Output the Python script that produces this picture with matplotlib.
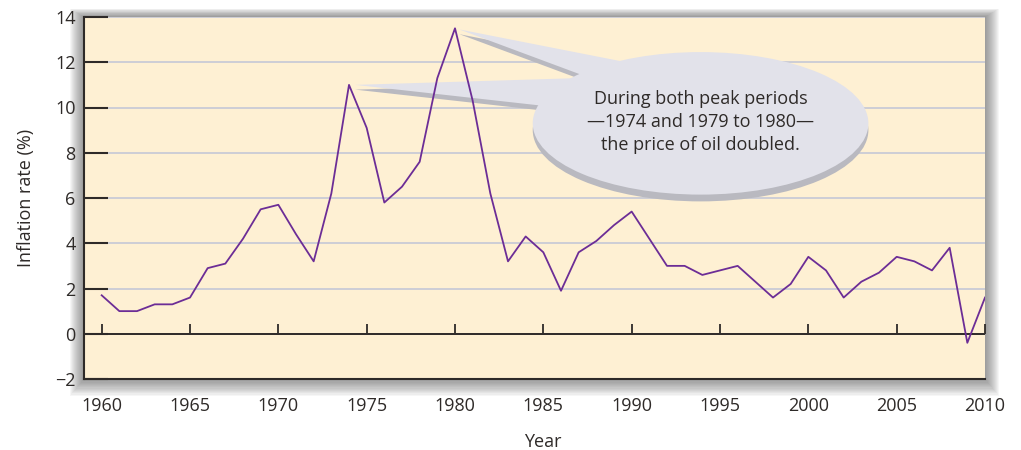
import matplotlib.pyplot as plt
from matplotlib.patches import Ellipse, Polygon, Rectangle

plt.rcParams['font.family'] = ['Open Sans', 'DejaVu Sans']

# US inflation rate, 1960-2010 (%)
years = list(range(1960, 2011))
inflation = [1.7, 1.0, 1.0, 1.3, 1.3, 1.6, 2.9, 3.1, 4.2, 5.5,
             5.7, 4.4, 3.2, 6.2, 11.0, 9.1, 5.8, 6.5, 7.6, 11.3,
             13.5, 10.3, 6.2, 3.2, 4.3, 3.6, 1.9, 3.6, 4.1, 4.8,
             5.4, 4.2, 3.0, 3.0, 2.6, 2.8, 3.0, 2.3, 1.6, 2.2,
             3.4, 2.8, 1.6, 2.3, 2.7, 3.4, 3.2, 2.8, 3.8, -0.4,
             1.6]
x_ticks = list(range(1960, 2011, 5))
y_ticks = list(range(-2, 15, 2))
note = "During both peak periods\n\u20141974 and 1979 to 1980\u2014\nthe price of oil doubled."

bg = '#FEF0D3'
dark = '#2E2A28'
purple = '#6C2D96'
bubble = '#E2E2EA'
bubble_shadow = '#B9B9C0'

fig = plt.figure(figsize=(10.21, 4.5), dpi=100)
ax = fig.add_axes([84 / 1021, 1 - 379 / 450, 901 / 1021, 362 / 450])
ax.set_facecolor(bg)

# soft drop shadow round the plot frame
x0, y0, w, h = ax.get_position().bounds
for i in range(1, 15):
    px, py = i / 1021, i / 450
    fig.patches.append(Rectangle((x0 - px, y0 - py * 1.2), w + 2 * px, h + py * 1.8,
                                 transform=fig.transFigure, color='#505050',
                                 alpha=0.05, lw=0, zorder=-5))

ax.plot(years, inflation, color=purple, lw=1.3, zorder=4)
ax.axhline(0, color=dark, lw=1.4, zorder=3.5)

ax.set_xlim(1959, 2010)
ax.set_ylim(-2, 14)
ax.set_yticks(y_ticks)
ax.set_xticks(x_ticks)
ax.set_axisbelow(True)
ax.grid(axis='y', color='#C9CBD6', lw=1.3)
ax.grid(axis='x', visible=False)

for s in ['top', 'right']:
    ax.spines[s].set_visible(False)
for s in ['left', 'bottom']:
    ax.spines[s].set_color(dark)
    ax.spines[s].set_linewidth(1.5)

ax.tick_params(axis='y', direction='in', length=17, width=1.5, color=dark,
               labelsize=13, labelcolor=dark, pad=6)
ax.tick_params(axis='x', length=0, labelsize=13, labelcolor=dark, pad=13)

# zero line carrying the year ticks
zero = ax.secondary_xaxis(2 / 16)
zero.set_xticks(x_ticks)
zero.tick_params(direction='in', length=7, width=1.3, color=dark, labelbottom=False)
zero.spines['bottom'].set_visible(False)

ax.set_ylabel('Inflation rate (%)', fontsize=13, color=dark)
ax.yaxis.set_label_coords(-0.054, 0.5)
ax.set_xlabel('Year', fontsize=13, color=dark)
ax.xaxis.set_label_coords(0.509, -0.148)

# speech bubble callout
cx, cy, ew, eh = 1993.9, 9.3, 19.0, 6.3
tip74 = (1974.35, inflation[14])
tip80 = (1980.25, inflation[20] - 0.05)
wedge74 = [tip74, (1987.0, 11.3), (1987.0, 9.9)]
wedge80 = [tip80, (1991.0, 11.8), (1988.0, 11.2)]
sh = 0.3
for pts in (wedge74, wedge80):
    ax.add_patch(Polygon([(px, py - sh * 0.7) for px, py in pts], color=bubble_shadow,
                         lw=0, zorder=2))
ax.add_patch(Ellipse((cx, cy - sh), ew, eh, color=bubble_shadow, lw=0, zorder=2))
for pts in (wedge74, wedge80):
    ax.add_patch(Polygon(pts, color=bubble, lw=0, zorder=3))
ax.add_patch(Ellipse((cx, cy), ew, eh, color=bubble, lw=0, zorder=3))
ax.text(cx, cy + 0.05, note, ha='center', va='center', fontsize=13, color=dark,
        linespacing=1.35, zorder=5)

fig.savefig('out.png', dpi=100, facecolor='white')
